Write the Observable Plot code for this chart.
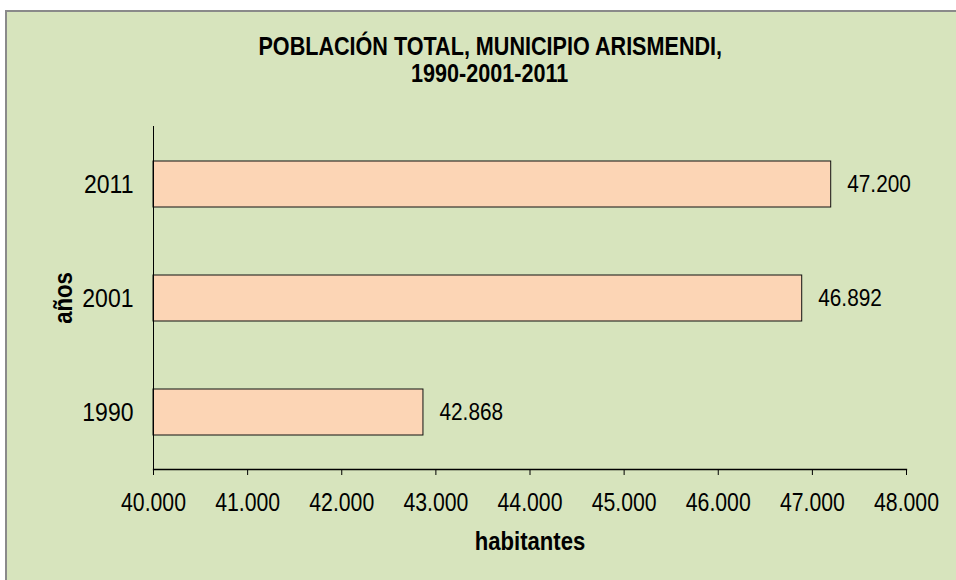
<!DOCTYPE html>
<html>
<head>
<meta charset="utf-8">
<script src="https://cdn.jsdelivr.net/npm/d3@7"></script>
<script src="https://cdn.jsdelivr.net/npm/@observablehq/plot@0.6"></script>
<style>
  html, body { margin: 0; padding: 0; background: #ffffff; width: 956px; height: 580px; overflow: hidden; }
  #frame { position: absolute; left: 5px; top: 10px; width: 970px; height: 590px; background: #d7e4bd; border: 2px solid #8a8a8a; box-sizing: border-box; }
  #title { position: absolute; left: 0; top: 33px; width: 980px; text-align: center; font-family: "Liberation Sans", Arial, sans-serif; font-weight: bold; font-size: 26px; line-height: 27px; color: #000; }
  #title span { display: inline-block; transform: scaleX(0.83); transform-origin: center; white-space: nowrap; }
  #chart { position: absolute; left: 0; top: 100px; }
</style>
</head>
<body>
<div id="frame"></div>
<div id="title"><div><span>POBLACIÓN TOTAL, MUNICIPIO ARISMENDI,</span></div><div><span>1990-2001-2011</span></div></div>
<div id="chart"></div>
<script>
const years = ["2011", "2001", "1990"];
const population = [47200, 46892, 42868];
const xTicks = [40000, 41000, 42000, 43000, 44000, 45000, 46000, 47000, 48000];
const xLabel = "habitantes";
const yLabel = "años";

const data = years.map((y, i) => ({year: y, value: population[i]}));
const fmt = v => d3.format(",")(v).replace(/,/g, ".");

const chart = Plot.plot({
  width: 956,
  height: 480,
  marginTop: 26,
  marginBottom: 111,
  marginLeft: 153,
  marginRight: 50,
  style: {background: "transparent", fontFamily: "'Liberation Sans', Arial, sans-serif", color: "#000", overflow: "visible"},
  x: {domain: [40000, 48000]},
  y: {domain: years, paddingInner: 0.6, paddingOuter: 0.3},
  marks: [
    Plot.barX(data, {x1: 40000, x2: "value", y: "year", fill: "#fcd5b5", stroke: "#111", strokeWidth: 1}),
    Plot.ruleX([40000], {stroke: "#000", strokeWidth: 1}),
    Plot.frame({anchor: "bottom", stroke: "#000", strokeWidth: 1.3}),
    Plot.axisX({ticks: xTicks, tickFormat: fmt, tickSize: 6, tickPadding: 18, fontSize: 25, label: null, stroke: "#000"}),
    Plot.axisY({tickSize: 0, tickPadding: 20, fontSize: 25, label: null}),
    Plot.text(data, {x: "value", y: "year", text: d => fmt(d.value), textAnchor: "start", dx: 16, fontSize: 24.5, fill: "#000", ariaLabel: "value-labels"}),
    Plot.text([xLabel], {frameAnchor: "bottom", text: d => d, textAnchor: "middle", lineAnchor: "middle", dy: 72, fontWeight: "bold", fontSize: 26, fill: "#000", ariaLabel: "x-title"}),
    Plot.text([yLabel], {frameAnchor: "left", text: d => d, textAnchor: "middle", lineAnchor: "middle", dx: -90, rotate: -90, fontWeight: "bold", fontSize: 26, fill: "#000", ariaLabel: "y-title"})
  ]
});
document.getElementById("chart").appendChild(chart);

// condense glyphs horizontally to mimic the narrow typeface of the original
const squeeze = {"y-axis tick label": 0.92, "value-labels": 0.88, "x-title": 0.9, "y-title": 0.9};
chart.querySelectorAll("text").forEach(t => {
  const g = t.closest("g[aria-label]");
  const k = (g && squeeze[g.getAttribute("aria-label")]) || 0.85;
  const len = t.getComputedTextLength();
  if (len > 0) {
    t.setAttribute("textLength", (len * k).toFixed(1));
    t.setAttribute("lengthAdjust", "spacingAndGlyphs");
  }
});
</script>
</body>
</html>
